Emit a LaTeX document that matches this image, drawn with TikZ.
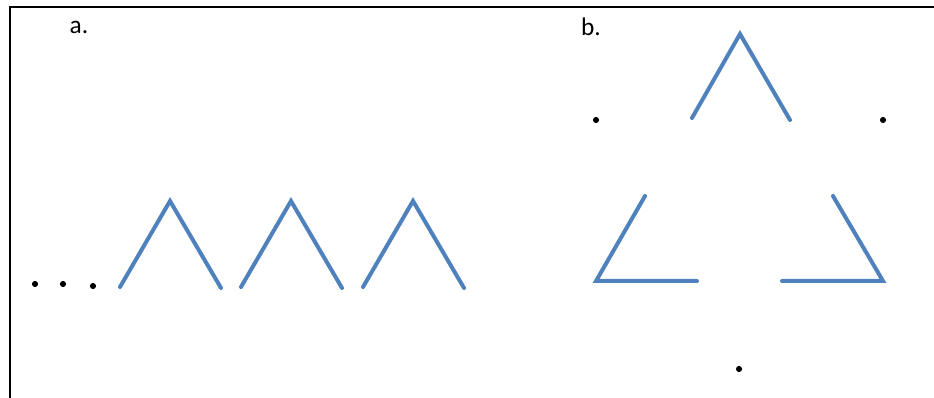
\documentclass[tikz,border=0pt]{standalone}
\usepackage{fontspec}
\setmainfont{Carlito}
\usetikzlibrary{positioning}
\definecolor{wireblue}{HTML}{4F81BD}
\tikzset{
  wire/.style={draw=wireblue, line width=3pt, line cap=round, line join=miter},
  dot/.style={circle, fill=black, inner sep=0pt, minimum size=4.6pt},
  tag/.style={font=\fontsize{19}{22}\selectfont, inner sep=0pt},
}

\begin{document}
\begin{tikzpicture}[x=0.75pt, y=-0.75pt]

  % =====================================================
  % FRAME
  % =====================================================

  \useasboundingbox (0,0) rectangle (934,398);

  \draw[line width=2.2pt]
    (10,398) -- (10,7) -- (934,7);


  % =====================================================
  % a. ROW OF CARETS
  % =====================================================

  \node[tag] (lbla) at (79,27) {a.};

  \node[dot] (d1) at (35,284) {};
  \node[dot] (d2) at (63,284) {};
  \node[dot] (d3) at (93,286) {};

  \foreach \x in {0,121,243} {
    \draw[wire]
      (120+\x,287) -- (170+\x,201) -- (221+\x,288);
  }


  % =====================================================
  % b. BROKEN TRIANGLE
  % =====================================================

  \node[tag] (lblb) at (591,27) {b.};

  \node[dot] (dl) at (596,120) {};
  \node[dot] (dr) at (883,120) {};
  \node[dot] (db) at (739,369) {};

  \draw[wire]
    (692,118) -- (740,34) -- (790,120);

  \draw[wire]
    (645,196) -- (596,281) -- (697,281);

  \draw[wire]
    (782,281) -- (883,281) -- (833,196);

\end{tikzpicture}
\end{document}
